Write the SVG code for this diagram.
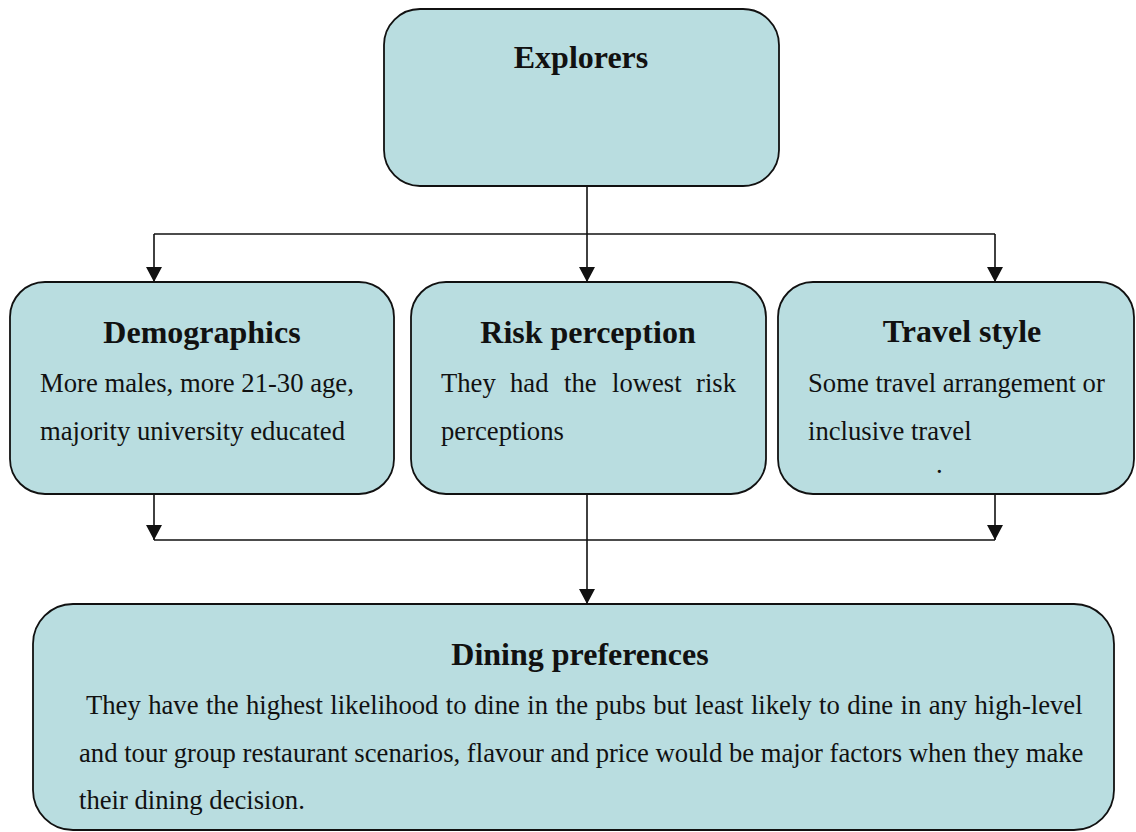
<svg xmlns="http://www.w3.org/2000/svg" width="1136" height="832" viewBox="0 0 1136 832">
  <style>
    .box { fill: #B9DDE0; stroke: #111; stroke-width: 1.8; }
    .title { font-family: "Liberation Serif", "Times New Roman", serif; font-size: 32px; font-weight: bold; fill: #111; text-anchor: middle; }
    .body { font-family: "Liberation Serif", "Times New Roman", serif; font-size: 26.67px; fill: #111; }
    .link { fill: none; stroke: #111; stroke-width: 1.6; }
  </style>
  <defs>
    <marker id="arrow" markerUnits="userSpaceOnUse" markerWidth="16" markerHeight="16" refX="15" refY="8" orient="auto">
      <path d="M0,0 L15,8 L0,16 Z" fill="#111"/>
    </marker>
  </defs>

  <rect width="1136" height="832" fill="#fff"/>

  <!-- connectors -->
  <g id="connectors">
    <path class="link" d="M587,186 L587,282" marker-end="url(#arrow)"/>
    <path class="link" d="M154,234 L995,234"/>
    <path class="link" d="M154,234 L154,282" marker-end="url(#arrow)"/>
    <path class="link" d="M995,234 L995,282" marker-end="url(#arrow)"/>
    <path class="link" d="M154,494 L154,540" marker-end="url(#arrow)"/>
    <path class="link" d="M995,494 L995,540" marker-end="url(#arrow)"/>
    <path class="link" d="M154,540 L995,540"/>
    <path class="link" d="M587,494 L587,604" marker-end="url(#arrow)"/>
  </g>

  <!-- top node -->
  <g id="explorers">
    <rect class="box" x="384" y="9" width="395" height="177" rx="36" ry="36"/>
    <text class="title" x="581" y="68">Explorers</text>
  </g>

  <g id="demographics">
    <rect class="box" x="10" y="282" width="384" height="212" rx="35" ry="35"/>
    <text class="title" x="202" y="343">Demographics</text>
    <text class="body" x="40" y="392">More males, more 21-30 age,</text>
    <text class="body" x="40" y="440">majority university educated</text>
  </g>

  <g id="risk-perception">
    <rect class="box" x="411" y="282" width="355" height="212" rx="35" ry="35"/>
    <text class="title" x="588" y="343">Risk perception</text>
    <text class="body" y="392"><tspan x="441">They</tspan><tspan x="510">had</tspan><tspan x="564">the</tspan><tspan x="612">lowest</tspan><tspan x="696">risk</tspan></text>
    <text class="body" x="441" y="440">perceptions</text>
  </g>

  <g id="travel-style">
    <rect class="box" x="778" y="282" width="356" height="212" rx="35" ry="35"/>
    <text class="title" x="962" y="342">Travel style</text>
    <text class="body" x="808" y="392">Some travel arrangement or</text>
    <text class="body" x="808" y="440">inclusive travel</text>
    <text class="body" x="936" y="473" font-size="7">.</text>
  </g>

  <g id="dining-preferences">
    <rect class="box" x="33" y="604" width="1081" height="226" rx="40" ry="40"/>
    <text class="title" x="580" y="665">Dining preferences</text>
    <text class="body" x="86" y="714" word-spacing="0.75">They have the highest likelihood to dine in the pubs but least likely to dine in any high-level</text>
    <text class="body" x="79" y="762">and tour group restaurant scenarios, flavour and price would be major factors when they make</text>
    <text class="body" x="79" y="809">their dining decision.</text>
  </g>
</svg>
